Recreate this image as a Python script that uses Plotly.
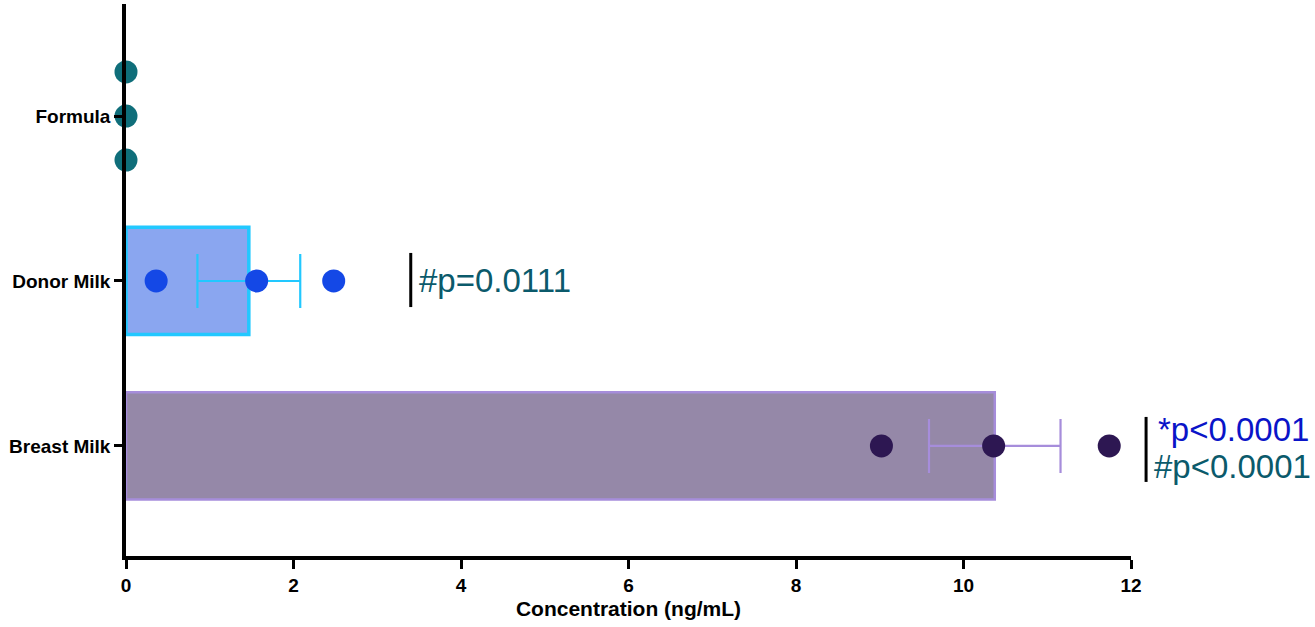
import numpy as np
import plotly.graph_objects as go

# ---- data ----
groups = ["Breast Milk", "Donor Milk", "Formula"]
breast_vals = [9.02, 10.36, 11.74]
donor_vals = [0.36, 1.56, 2.48]
formula_vals = [0.0, 0.0, 0.0]
formula_jitter = [0.267, 0.0, -0.267]
x_ticks = [0, 2, 4, 6, 8, 10, 12]
donor_stat = "#p=0.0111"
breast_stat_star = "*p<0.0001"
breast_stat_hash = "#p<0.0001"

FONT = "Arial, Liberation Sans, Helvetica, sans-serif"
XMAX = 12
YMIN, YMAX = -0.667, 2.679

def mean_sem(v):
    v = np.asarray(v, dtype=float)
    return float(v.mean()), float(v.std(ddof=1) / np.sqrt(len(v)))

b_mean, b_sem = mean_sem(breast_vals)
d_mean, d_sem = mean_sem(donor_vals)
f_mean, f_sem = mean_sem(formula_vals)

fig = go.Figure()

# bars with SEM error bars
fig.add_trace(go.Bar(
    x=[b_mean], y=[0], orientation="h", width=0.65,
    marker=dict(color="#9588A8", line=dict(color="#A68DDB", width=2.5)),
    error_x=dict(type="data", array=[b_sem], color="#A68DDB", thickness=2.2, width=27),
    showlegend=False))
fig.add_trace(go.Bar(
    x=[d_mean], y=[1], orientation="h", width=0.65,
    marker=dict(color="#8AA6F0", line=dict(color="#22C8FF", width=3.5)),
    error_x=dict(type="data", array=[d_sem], color="#22C8FF", thickness=2.2, width=27),
    showlegend=False))

# individual points
fig.add_trace(go.Scatter(
    x=breast_vals, y=[0] * len(breast_vals), mode="markers",
    marker=dict(color="#2D1752", size=23), cliponaxis=False, showlegend=False))
fig.add_trace(go.Scatter(
    x=donor_vals, y=[1] * len(donor_vals), mode="markers",
    marker=dict(color="#1448E6", size=23), cliponaxis=False, showlegend=False))
fig.add_trace(go.Scatter(
    x=formula_vals, y=[2 + j for j in formula_jitter], mode="markers",
    marker=dict(color="#0F6E7A", size=23), cliponaxis=False, showlegend=False))

def px(v):
    return v / XMAX

def py(v):
    return (v - YMIN) / (YMAX - YMIN)

shapes = [
    dict(type="line", xref="paper", yref="paper",
         x0=px(3.40), x1=px(3.40), y0=py(1 - 0.158), y1=py(1 + 0.17),
         line=dict(color="black", width=3)),
    dict(type="line", xref="paper", yref="paper",
         x0=px(12.18), x1=px(12.18), y0=py(-0.218), y1=py(0.176),
         line=dict(color="black", width=3)),
]

annotations = [
    dict(xref="paper", yref="paper", x=px(3.47), y=py(1.0), text=donor_stat,
         showarrow=False, xanchor="left", yanchor="middle",
         font=dict(family=FONT, size=33, color="#0B5A6B")),
    dict(xref="paper", yref="paper", x=px(12.30), y=py(0.097), text=breast_stat_star,
         showarrow=False, xanchor="left", yanchor="middle",
         font=dict(family=FONT, size=33, color="#0A14C8")),
    dict(xref="paper", yref="paper", x=px(12.25), y=py(-0.127), text=breast_stat_hash,
         showarrow=False, xanchor="left", yanchor="middle",
         font=dict(family=FONT, size=33, color="#0B5A6B")),
]

fig.update_layout(
    width=1315, height=627,
    margin=dict(l=126, r=184, t=4, b=71),
    paper_bgcolor="white", plot_bgcolor="white",
    barmode="overlay",
    shapes=shapes, annotations=annotations,
    xaxis=dict(
        range=[0, XMAX], tickvals=x_ticks, ticktext=[str(t) for t in x_ticks],
        showgrid=False, zeroline=False, showline=True, linecolor="black", linewidth=3.5,
        ticks="outside", ticklen=9, tickwidth=3, tickcolor="black",
        tickfont=dict(family=FONT, size=19, color="black", weight="bold"),
        title=dict(text="Concentration (ng/mL)", standoff=8,
                   font=dict(family=FONT, size=21, color="black", weight="bold")),
    ),
    yaxis=dict(
        range=[YMIN, YMAX], tickvals=[0, 1, 2], ticktext=groups,
        showgrid=False, zeroline=False, showline=True, linecolor="black", linewidth=3.5,
        ticks="outside", ticklen=8, tickwidth=3, tickcolor="black",
        tickfont=dict(family=FONT, size=19, color="black", weight="bold"),
    ),
)

fig.write_html("out.html")
